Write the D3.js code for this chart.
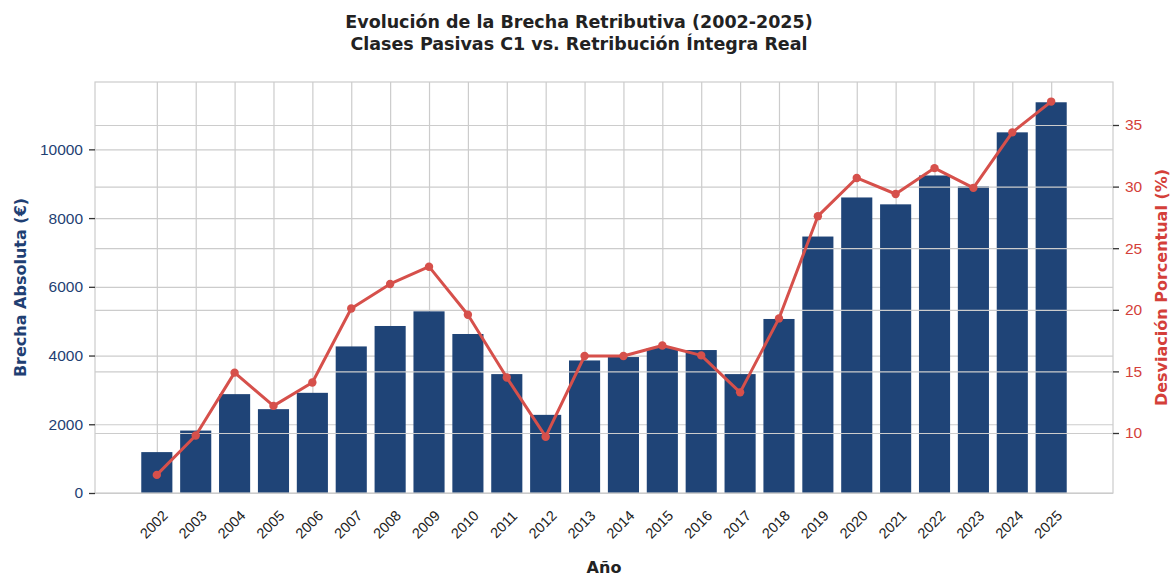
<!DOCTYPE html>
<html>
<head>
<meta charset="utf-8">
<script src="https://cdn.jsdelivr.net/npm/d3@7"></script>
<style>
  body { margin: 0; background: #fff; }
  svg { font-family: "DejaVu Sans", sans-serif; }
  .grid line { stroke: #cccccc; stroke-width: 1.2; }
  .grid path { display: none; }
</style>
</head>
<body>
<svg id="chart" width="1170" height="576"></svg>
<script>
const years = ["2002","2003","2004","2005","2006","2007","2008","2009","2010","2011","2012","2013",
               "2014","2015","2016","2017","2018","2019","2020","2021","2022","2023","2024","2025"];
// brecha absoluta en euros
const brecha = [1190, 1817, 2877, 2440, 2915, 4265, 4860, 5286, 4627, 3460, 2274, 3857,
                3956, 4218, 4160, 3460, 5064, 7463, 8600, 8400, 9240, 8920, 10495, 11370];
// desviacion porcentual
const desviacion = [6.6, 9.8, 14.9, 12.2, 14.1, 20.1, 22.1, 23.5, 19.6, 14.5, 9.7, 16.25,
                    16.25, 17.1, 16.3, 13.3, 19.3, 27.6, 30.7, 29.4, 31.5, 29.9, 34.4, 36.9];
const leftTicks = [0, 2000, 4000, 6000, 8000, 10000];
const rightTicks = [10, 15, 20, 25, 30, 35];

const barColor = "#1f4477";
const lineColor = "#d6504b";
const leftColor = "#1f3f73";
const rightColor = "#d43f3a";

const svg = d3.select("#chart");
const margin = { top: 82, right: 57, bottom: 83, left: 95 };
const width = 1170 - margin.left - margin.right;
const height = 576 - margin.top - margin.bottom;

const g = svg.append("g").attr("transform", `translate(${margin.left},${margin.top})`);

// category index scale, bars are 0.8 wide with 5% margins like matplotlib
const x = d3.scaleLinear().domain([-1.59, years.length - 1 + 1.59]).range([0, width]);
const yL = d3.scaleLinear().domain([0, 11960]).range([height, 0]);
const yR = d3.scaleLinear().domain([5.13, 38.49]).range([height, 0]);

// background grids (left axis + vertical)
g.append("g").attr("class", "grid")
  .call(d3.axisLeft(yL).tickValues(leftTicks).tickSize(-width).tickFormat(""));
g.append("g").attr("class", "grid")
  .call(d3.axisBottom(x).tickValues(d3.range(years.length)).tickSize(height).tickFormat(""));

// bars
const bw = x(0.4) - x(-0.4);
g.selectAll(".bar").data(brecha).join("rect")
  .attr("class", "bar")
  .attr("x", (d, i) => x(i) - bw / 2)
  .attr("y", d => yL(d))
  .attr("width", bw)
  .attr("height", d => height - yL(d))
  .attr("fill", barColor);

// right axis grid sits on top of the bars
g.append("g").attr("class", "grid")
  .call(d3.axisLeft(yR).tickValues(rightTicks).tickSize(-width).tickFormat(""))
  .selectAll("line").attr("stroke", "#c9ced6");

// frame
g.append("rect").attr("width", width).attr("height", height)
  .attr("fill", "none").attr("stroke", "#cccccc").attr("stroke-width", 1.2);

// line
const line = d3.line().x((d, i) => x(i)).y(d => yR(d));
g.append("path").datum(desviacion)
  .attr("fill", "none").attr("stroke", lineColor).attr("stroke-width", 3)
  .attr("stroke-linejoin", "round")
  .attr("d", line);
g.selectAll(".pt").data(desviacion).join("circle")
  .attr("class", "pt")
  .attr("cx", (d, i) => x(i)).attr("cy", d => yR(d)).attr("r", 4.2)
  .attr("fill", lineColor);

// axes
const axL = g.append("g")
  .call(d3.axisLeft(yL).tickValues(leftTicks).tickSize(6).tickPadding(6).tickFormat(d3.format("d")));
axL.select(".domain").remove();
axL.selectAll("line").attr("stroke", "#333").attr("stroke-width", 1.3);
axL.selectAll("text").attr("fill", leftColor).style("font-size", "15.5px");

const axR = g.append("g").attr("transform", `translate(${width},0)`)
  .call(d3.axisRight(yR).tickValues(rightTicks).tickSize(6).tickPadding(6));
axR.select(".domain").remove();
axR.selectAll("line").attr("stroke", "#333").attr("stroke-width", 1.3);
axR.selectAll("text").attr("fill", rightColor).style("font-size", "15.5px");

const axB = g.append("g").attr("transform", `translate(0,${height})`)
  .call(d3.axisBottom(x).tickValues(d3.range(years.length)).tickSize(0).tickFormat(i => years[i]));
axB.select(".domain").remove();
axB.selectAll("text")
  .style("font-size", "14.5px").attr("fill", "#222")
  .attr("text-anchor", "middle")
  .attr("dy", null).attr("y", 0)
  .attr("transform", "translate(0,35) rotate(-45)");

// labels
g.append("text")
  .attr("transform", `translate(${20 - margin.left},${height / 2}) rotate(-90)`)
  .attr("text-anchor", "middle").attr("dy", "0.35em")
  .attr("fill", leftColor).style("font-weight", "bold").style("font-size", "16px")
  .text("Brecha Absoluta (€)");
g.append("text")
  .attr("transform", `translate(${width + 48},${height / 2}) rotate(-90)`)
  .attr("text-anchor", "middle").attr("dy", "0.35em")
  .attr("fill", rightColor).style("font-weight", "bold").style("font-size", "16px")
  .text("Desviación Porcentual (%)");
g.append("text")
  .attr("x", width / 2).attr("y", height + 80)
  .attr("text-anchor", "middle")
  .attr("fill", "#222").style("font-weight", "bold").style("font-size", "16px")
  .text("Año");

svg.append("text").attr("x", 579).attr("y", 28)
  .attr("text-anchor", "middle").attr("fill", "#222")
  .style("font-weight", "bold").style("font-size", "17.5px")
  .text("Evolución de la Brecha Retributiva (2002-2025)");
svg.append("text").attr("x", 579).attr("y", 50)
  .attr("text-anchor", "middle").attr("fill", "#222")
  .style("font-weight", "bold").style("font-size", "17.5px")
  .text("Clases Pasivas C1 vs. Retribución Íntegra Real");
</script>
</body>
</html>
